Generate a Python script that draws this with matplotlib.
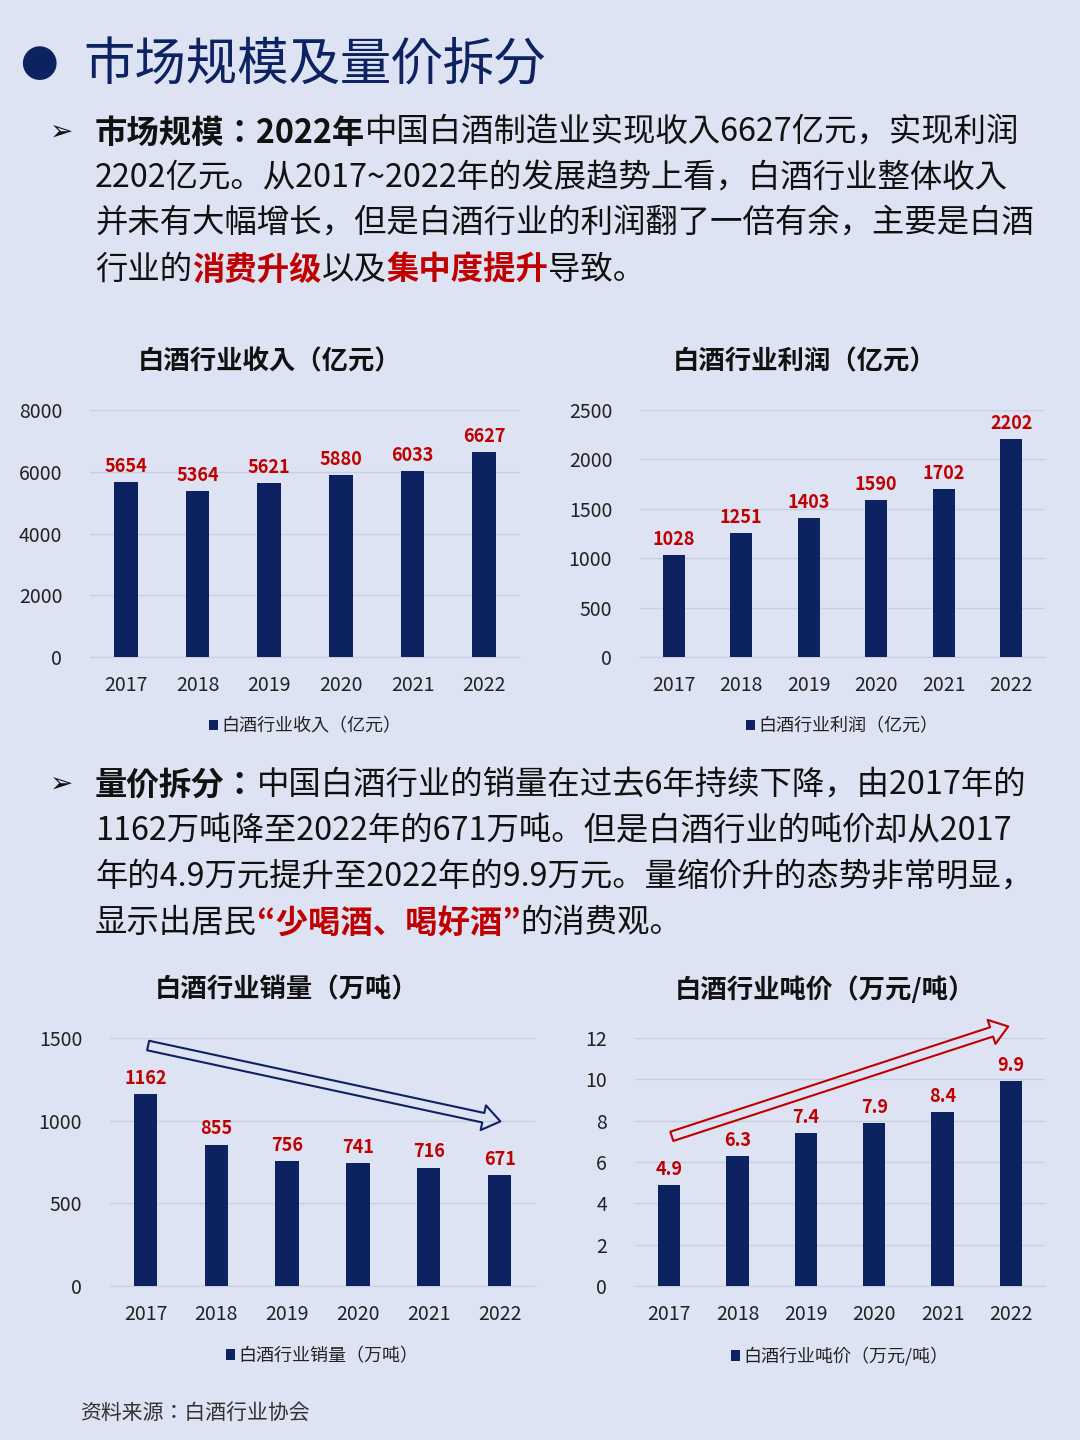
import matplotlib
matplotlib.use("Agg")
import matplotlib.pyplot as plt
import numpy as np

plt.rcParams["font.family"] = ["Noto Sans CJK JP", "DejaVu Sans"]

years = ["2017", "2018", "2019", "2020", "2021", "2022"]
revenue = [5654, 5364, 5621, 5880, 6033, 6627]
profit = [1028, 1251, 1403, 1590, 1702, 2202]
volume = [1162, 855, 756, 741, 716, 671]
price = [4.9, 6.3, 7.4, 7.9, 8.4, 9.9]

BG = "#dde3f2"
NAVY = "#0d2260"
RED = "#c00000"
K = "#111111"

fig = plt.figure(figsize=(10.8, 14.4), dpi=100, facecolor=BG)
W, H = 1080, 1440


def fx(px):
    return px / W


def fy(py):
    return 1 - py / H


renderer = fig.canvas.get_renderer()


def rich(x, y, parts, size=23.3):
    cur = x
    for text, bold, color in parts:
        t = fig.text(fx(cur), fy(y), text, fontsize=size, color=color,
                     fontweight="bold" if bold else "normal", va="center", ha="left")
        cur += t.get_window_extent(renderer).width


# title
fig.text(fx(20), fy(66), "●", fontsize=27, color=NAVY, va="center", ha="left")
fig.text(fx(83), fy(66), "市场规模及量价拆分", fontsize=37, color=NAVY, va="center", ha="left")

fig.text(fx(50), fy(133), "➢", fontsize=20, color=K, va="center", family="DejaVu Sans")
rich(95, 133, [("市场规模：2022年", True, K), ("中国白酒制造业实现收入6627亿元，实现利润", False, K)])
rich(95, 178, [("2202亿元。从2017~2022年的发展趋势上看，白酒行业整体收入", False, K)])
rich(95, 224, [("并未有大幅增长，但是白酒行业的利润翻了一倍有余，主要是白酒", False, K)])
rich(95, 270, [("行业的", False, K), ("消费升级", True, RED), ("以及", False, K),
               ("集中度提升", True, RED), ("导致。", False, K)])

fig.text(fx(50), fy(785), "➢", fontsize=20, color=K, va="center", family="DejaVu Sans")
rich(95, 785, [("量价拆分：", True, K), ("中国白酒行业的销量在过去6年持续下降，由2017年的", False, K)])
rich(95, 831, [("1162万吨降至2022年的671万吨。但是白酒行业的吨价却从2017", False, K)])
rich(95, 877, [("年的4.9万元提升至2022年的9.9万元。量缩价升的态势非常明显，", False, K)])
rich(95, 923, [("显示出居民", False, K), ("“少喝酒、喝好酒”", True, RED), ("的消费观。", False, K)])

fig.text(fx(80), fy(1413), "资料来源：白酒行业协会", fontsize=15, color="#333333",
         style="italic", va="center")


def bar_chart(box, vals, ymax, step, title, legend, fmt, title_x):
    l, t, r, b = box
    ax = fig.add_axes([fx(l), fy(b), fx(r - l), (b - t) / H])
    ax.set_facecolor("none")
    x = np.arange(len(years))
    ax.bar(x, vals, width=0.33, color=NAVY, label=legend, zorder=3)
    for xi, v in zip(x, vals):
        ax.text(xi, v + ymax * 0.025, fmt(v), ha="center", va="bottom", color=RED,
                fontsize=13, fontweight="bold")
    ax.set_ylim(0, ymax)
    ax.set_yticks(np.arange(0, ymax + step / 2, step))
    ax.set_xlim(-0.5, 5.5)
    ax.set_xticks(x)
    ax.set_xticklabels(years)
    ax.grid(axis="y", color="#c8cfdf", lw=1, zorder=0)
    for s in ax.spines.values():
        s.set_visible(False)
    ax.spines["bottom"].set_visible(True)
    ax.spines["bottom"].set_color("#c8cfdf")
    ax.tick_params(length=0, labelsize=14, colors="#222222")
    ax.tick_params(axis="y", pad=20)
    ax.tick_params(axis="x", pad=13)
    fig.text(fx(title_x), fy(t - 48), title, fontsize=19, fontweight="bold",
             ha="center", va="center", color=K)
    ax.legend(loc="upper center", bbox_to_anchor=(0.5, -0.18), frameon=False,
              fontsize=13, handlelength=0.5, handleheight=0.5, handletextpad=0.2,
              labelcolor="#222222")
    return ax


bar_chart((90, 410, 520, 657), revenue, 8000, 2000, "白酒行业收入（亿元）",
          "白酒行业收入（亿元）", lambda v: f"{v}", 270)
bar_chart((640, 410, 1045, 657), profit, 2500, 500, "白酒行业利润（亿元）",
          "白酒行业利润（亿元）", lambda v: f"{v}", 805)
ax3 = bar_chart((110, 1038, 535, 1286), volume, 1500, 500, "白酒行业销量（万吨）",
                "白酒行业销量（万吨）", lambda v: f"{v}", 287)
ax4 = bar_chart((635, 1038, 1045, 1286), price, 12, 2, "白酒行业吨价（万元/吨）",
                "白酒行业吨价（万元/吨）", lambda v: f"{v:.1f}", 825)

style = "simple,head_length=0.9,head_width=1.3,tail_width=0.5"
ax3.annotate("", xy=(5.05, 992), xytext=(0.0, 1458),
             arrowprops=dict(arrowstyle=style, fc="none", ec=NAVY, lw=1.5,
                             mutation_scale=14), annotation_clip=False)
ax4.annotate("", xy=(5.0, 12.6), xytext=(0.0, 7.2),
             arrowprops=dict(arrowstyle=style, fc="none", ec=RED, lw=1.5,
                             mutation_scale=14), annotation_clip=False)

fig.savefig("out.png", dpi=100, facecolor=BG)
